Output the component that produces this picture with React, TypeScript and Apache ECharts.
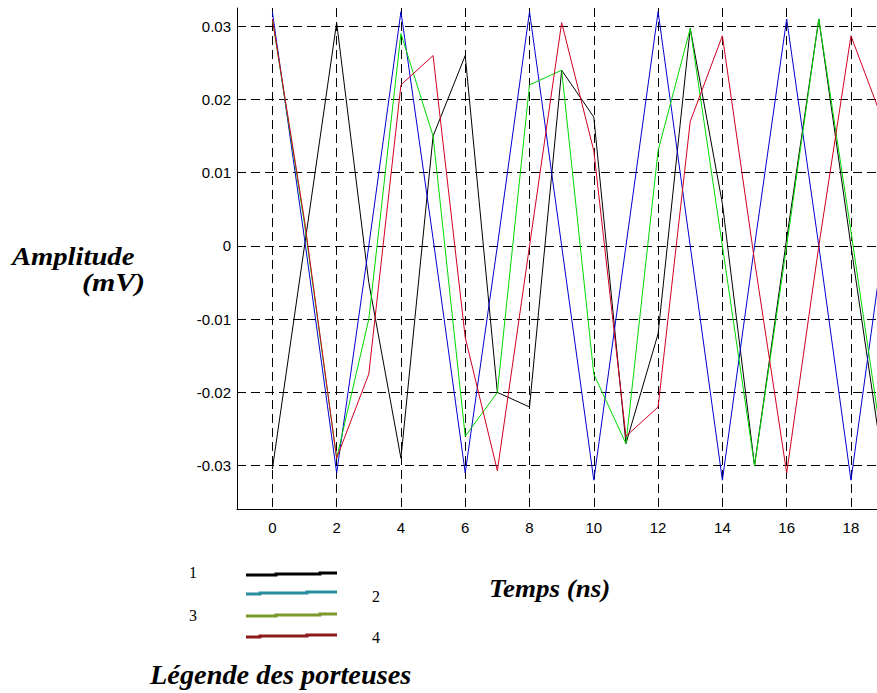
import React, { useEffect, useRef } from "react";
import * as echarts from "echarts";

// Temps (ns)
const timeNs = [0, 1, 2, 3, 4, 5, 6, 7, 8, 9, 10, 11, 12, 13, 14, 15, 16, 17, 18, 19];

// Amplitude (mV) of each carrier
const carrier1 = [-0.0305, 0.0, 0.0305, -0.005, -0.029, 0.015, 0.026, -0.02, -0.022, 0.024, 0.0176, -0.027, -0.012, 0.0297, 0.0058, -0.03, 0.001, 0.031, 0.0, -0.03];
const carrier2 = [0.032, 0.001, -0.031, 0.0, 0.032, 0.001, -0.031, 0.0, 0.032, 0.0, -0.032, 0.0, 0.032, 0.0, -0.032, 0.0, 0.031, 0.0, -0.032, 0.0];
const carrier3 = [0.031, 0.003, -0.029, -0.01, 0.029, 0.015, -0.026, -0.02, 0.022, 0.024, -0.0175, -0.027, 0.013, 0.0297, 0.0, -0.03, 0.0, 0.031, 0.002, -0.028];
const carrier4 = [0.031, 0.0035, -0.029, -0.0175, 0.022, 0.026, -0.0125, -0.0307, 0.0, 0.0305, 0.013, -0.026, -0.022, 0.017, 0.0287, -0.002, -0.031, 0.0, 0.0287, 0.017];

const xTicks = [0, 2, 4, 6, 8, 10, 12, 14, 16, 18];
const yTicks = [-0.03, -0.02, -0.01, 0, 0.01, 0.02, 0.03];

const legendNames = ["1", "2", "3", "4"];

const serifBI = (size: number) => `italic bold ${size}px "Liberation Serif", "DejaVu Serif", serif`;
const serif = (size: number) => `${size}px "Liberation Serif", "DejaVu Serif", serif`;

function txt(text: string, x: number, y: number, font: string, scaleX = 1) {
  return {
    type: "text",
    x,
    y,
    scaleX,
    style: {
      text,
      font,
      fill: "#000",
      align: "left",
      verticalAlign: "middle",
      textAlign: "left",
      textVerticalAlign: "middle",
    },
  };
}

function legendLine(pts: number[][], color: string) {
  return {
    type: "polyline",
    shape: { points: pts },
    style: { stroke: color, lineWidth: 3, fill: "none" },
  };
}

export default function App() {
  const ref = useRef<HTMLDivElement>(null);

  useEffect(() => {
    if (!ref.current) return;
    const chart = echarts.init(ref.current, undefined, { renderer: "svg" });
    const mk = (vals: number[], color: string, name: string) => ({
      type: "line",
      name,
      data: timeNs.map((t, i) => [t, vals[i]]),
      symbol: "none",
      clip: true,
      lineStyle: { color, width: 1 },
      itemStyle: { color },
    });
    const grid = { type: [9, 5], color: "#000", width: 1 };
    const labelFont = '"Liberation Sans", Arial, sans-serif';
    chart.setOption({
      animation: false,
      backgroundColor: "#fff",
      grid: { left: 237, top: 8, width: 640, height: 501.5, containLabel: false },
      xAxis: {
        type: "value",
        min: -1.1,
        max: 18.81,
        axisLine: { show: true, onZero: false, lineStyle: { color: "#000", width: 1 } },
        axisTick: { show: false, customValues: xTicks },
        axisLabel: { customValues: xTicks, color: "#000", fontSize: 15, fontFamily: labelFont, margin: 10 },
        splitLine: { show: true, lineStyle: grid },
      },
      yAxis: {
        type: "value",
        min: -0.036,
        max: 0.0325,
        axisLine: { show: true, onZero: false, lineStyle: { color: "#000", width: 1 } },
        axisTick: { show: false, customValues: yTicks },
        axisLabel: { customValues: yTicks, color: "#000", fontSize: 15, fontFamily: labelFont, margin: 6 },
        splitLine: { show: true, lineStyle: grid },
      },
      series: [
        mk(carrier1, "#000000", legendNames[0]),
        mk(carrier2, "#0000d0", legendNames[1]),
        mk(carrier3, "#00d800", legendNames[2]),
        mk(carrier4, "#d00020", legendNames[3]),
      ],
      graphic: [
        txt("Amplitude", 12, 256, serifBI(26), 1.1),
        txt("(mV)", 82, 282, serifBI(26), 1.15),
        txt("Temps (ns)", 489, 589, serifBI(25), 1.08),
        txt("Légende des porteuses", 150, 675, serifBI(27), 1.05),
        txt(legendNames[0], 189, 572, serif(16)),
        txt(legendNames[1], 372, 596, serif(16)),
        txt(legendNames[2], 189, 615, serif(16)),
        txt(legendNames[3], 372, 637, serif(16)),
        legendLine([[246, 575], [276, 575], [276, 574], [320, 574], [320, 573], [337, 573]], "#000000"),
        legendLine([[246, 594], [260, 594], [260, 593], [307, 593], [307, 592], [337, 592]], "#2a8ea0"),
        legendLine([[246, 616], [276, 616], [276, 615], [320, 615], [320, 614], [337, 614]], "#7a9a2a"),
        legendLine([[246, 637], [260, 637], [260, 636], [307, 636], [307, 635], [337, 635]], "#8b1a1a"),
      ],
    });
    return () => chart.dispose();
  }, []);

  return (
    <div
      ref={ref}
      style={{ position: "absolute", left: 0, top: 0, width: 877, height: 693, background: "#fff" }}
    />
  );
}
